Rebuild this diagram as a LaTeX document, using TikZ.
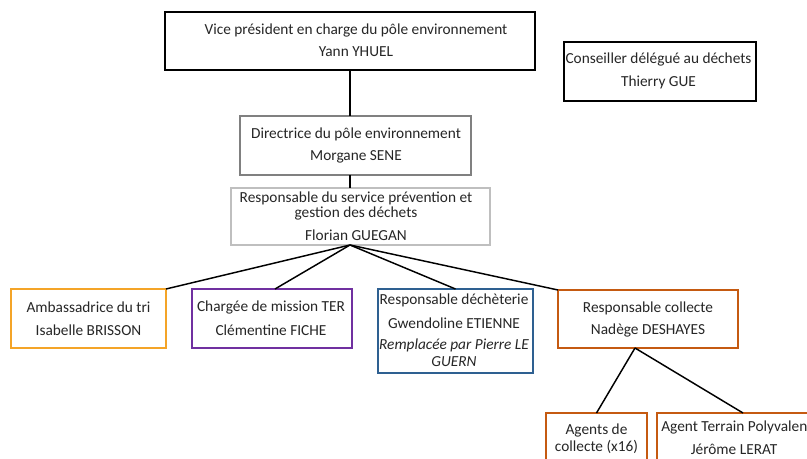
\documentclass[tikz,border=0pt]{standalone}
\usepackage{fontspec}
\setmainfont{Carlito}
\definecolor{ambcol}{RGB}{244,164,40}
\definecolor{purcol}{RGB}{112,48,160}
\definecolor{bluecol}{RGB}{46,96,145}
\definecolor{redcol}{RGB}{197,90,17}
\definecolor{dirgray}{RGB}{128,128,128}
\definecolor{svcgray}{RGB}{191,191,191}
\begin{document}
\begin{tikzpicture}[x=0.75pt,y=-0.75pt,
  box/.style={draw, inner sep=0pt, outer sep=0pt, fill=white},
  thickbox/.style={box, line width=2.2pt},
  colbox/.style={box, line width=1.5pt},
  txt/.style={font=\fontsize{11.5pt}{13pt}\selectfont, inner sep=0pt, anchor=center, text=black!85},
  link/.style={line width=1.1pt, black}]
\useasboundingbox (0,0) rectangle (807,459);
\clip (0,0) rectangle (807,459);
\fill[white] (0,0) rectangle (807,459);
% trunk coordinate
\coordinate (trunk) at (350,0);
% boxes
\node[thickbox, minimum width=277.5pt, minimum height=43.5pt] (vp) at (350,41) {};
\node[thickbox, minimum width=144pt, minimum height=44.25pt] (cons) at (660,71.5) {};
\node[thickbox, draw=dirgray, minimum width=173.25pt, minimum height=44.25pt] (dir) at (355.5,145.5) {};
\node[box, line width=1.6pt, draw=svcgray, minimum width=194.25pt, minimum height=42.75pt] (svc) at (360.5,216.5) {};
\node[colbox, draw=ambcol, minimum width=116.25pt, minimum height=44.25pt] (amb) at (88.5,318.5) {};
\node[colbox, draw=purcol, minimum width=120pt, minimum height=44.25pt] (ter) at (272,318.5) {};
\node[colbox, draw=bluecol, minimum width=116.25pt, minimum height=63pt] (dech) at (455.5,331) {};
\node[colbox, draw=redcol, minimum width=135pt, minimum height=43.5pt] (coll) at (648,319) {};
\node[colbox, draw=redcol, minimum width=75.75pt, minimum height=50.25pt] (agents) at (596.5,446.5) {};
\node[colbox, draw=redcol, minimum width=129pt, minimum height=50.25pt] (polyv) at (743,446.5) {};
% connectors
\coordinate (vpb) at (trunk |- vp.south);
\coordinate (dirt) at (trunk |- dir.north);
\coordinate (dirb) at (trunk |- dir.south);
\coordinate (svct) at (trunk |- svc.north);
\coordinate (svcb) at (trunk |- svc.south);
\coordinate (collb) at ([xshift=-9.75pt]coll.south);
\draw[link] (vpb) -- (dirt);
\draw[link] (dirb) -- (svct);
\draw[link] (svcb) -- (amb.north east);
\draw[link] (svcb) -- ([xshift=2.25pt]ter.north);
\draw[link] (svcb) -- (dech.north);
\draw[link] (svcb) -- (coll.north west);
\draw[link] (collb) -- (agents.north);
\draw[link] (collb) -- (polyv.north);
% texts
\node[txt] (t1) at (356,30) {Vice président en charge du pôle environnement};
\node[txt] (t2) at (356,52) {Yann YHUEL};
\node[txt] (t3) at (658.5,59) {Conseiller délégué au déchets};
\node[txt] (t4) at (658.5,82) {Thierry GUE};
\node[txt] (t5) at (356,134) {Directrice du pôle environnement};
\node[txt] (t6) at (356,157) {Morgane SENE};
\node[txt] (t7) at (356,198) {Responsable du service prévention et};
\node[txt] (t8) at (356,213) {gestion des déchets};
\node[txt] (t9) at (356,235) {Florian GUEGAN};
\node[txt] (t10) at (88.5,307) {Ambassadrice du tri};
\node[txt] (t11) at (88.5,330) {Isabelle BRISSON};
\node[txt] (t12) at (271,307) {Chargée de mission TER};
\node[txt] (t13) at (271,330) {Clémentine FICHE};
\node[txt] (t14) at (454,300) {Responsable déchèterie};
\node[txt] (t15) at (454,323) {Gwendoline ETIENNE};
\node[txt] (t16) at (454,345) {\itshape Remplacée par Pierre LE};
\node[txt] (t17) at (454,362) {\itshape GUERN};
\node[txt] (t18) at (648,308) {Responsable collecte};
\node[txt] (t19) at (648,330) {Nadège DESHAYES};
\node[txt] (t20) at (596.5,430) {Agents de};
\node[txt] (t21) at (596.5,447) {collecte (x16)};
\node[txt, anchor=west] (t22) at (661,427) {Agent Terrain Polyvalent};
\node[txt] (t23) at (734,449) {Jérôme LERAT};
\end{tikzpicture}
\end{document}
